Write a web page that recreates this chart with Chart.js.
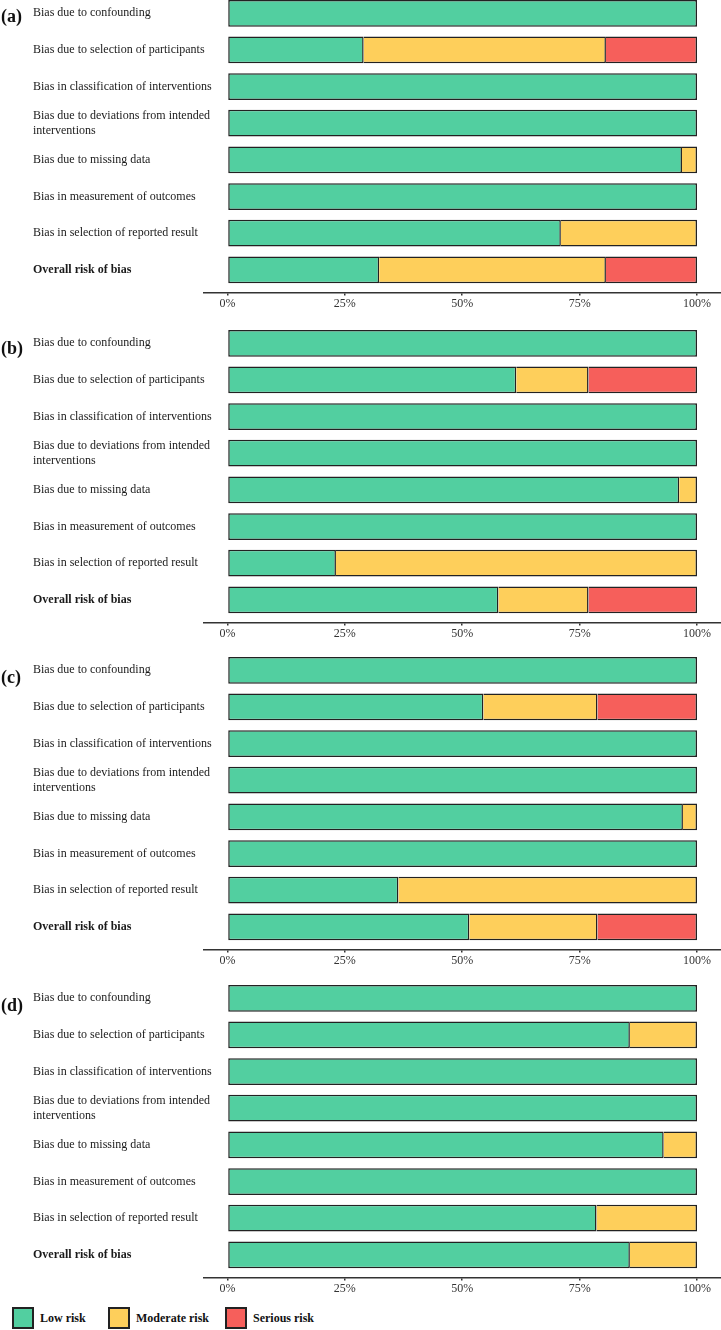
<!DOCTYPE html>
<html>
<head>
<meta charset="utf-8">
<script src="https://cdn.jsdelivr.net/npm/chart.js@4.4.1/dist/chart.umd.min.js"></script>
<style>
    body { margin: 0; background: #fff; }
    #page { position: relative; width: 721px; height: 1330px; overflow: hidden; font-family: 'Liberation Serif', 'Times New Roman', serif; }
    .panel { position: absolute; left: 0; }
    .letra { position: absolute; left: 1px; font-weight: bold; font-size: 18px; line-height: 18px; color: #111; }
    .leyenda { position: absolute; top: 1307px; height: 22px; display: flex; align-items: center; font-weight: bold; font-size: 12px; color: #111; }
    .leyenda-caja { width: 22px; height: 22px; box-sizing: border-box; border: 2px solid #222; margin-right: 6px; }
</style>
</head>
<body>
<div id="page">
    <canvas id="chart-a" class="panel" width="721" height="323" style="top:-11px"></canvas>
    <canvas id="chart-b" class="panel" width="721" height="323" style="top:319px"></canvas>
    <canvas id="chart-c" class="panel" width="721" height="323" style="top:646px"></canvas>
    <canvas id="chart-d" class="panel" width="721" height="323" style="top:974px"></canvas>
    <div class="letra" style="top:7px">(a)</div>
    <div class="letra" style="top:339px">(b)</div>
    <div class="letra" style="top:668px">(c)</div>
    <div class="letra" style="top:996px">(d)</div>
    <div id="leyenda"></div>
</div>
<script>
var dominios = [
    'Bias due to confounding',
    'Bias due to selection of participants',
    'Bias in classification of interventions',
    ['Bias due to deviations from intended', 'interventions'],
    'Bias due to missing data',
    'Bias in measurement of outcomes',
    'Bias in selection of reported result',
    'Overall risk of bias'
];
var x_ticks = [0, 25, 50, 75, 100];
var riesgos = ['Low risk', 'Moderate risk', 'Serious risk'];
var colores = ['#52CFA0', '#FECF5B', '#F65F5B'];

// porcentajes de estudios por dominio
var low_a = [100, 29.0, 100, 100, 96.8, 100, 71.0, 32.3];
var moderate_a = [0, 51.6, 0, 0, 3.2, 0, 29.0, 48.3];
var serious_a = [0, 19.4, 0, 0, 0, 0, 0, 19.4];

var low_b = [100, 61.5, 100, 100, 96.2, 100, 23.1, 57.7];
var moderate_b = [0, 15.4, 0, 0, 3.8, 0, 76.9, 19.2];
var serious_b = [0, 23.1, 0, 0, 0, 0, 0, 23.1];

var low_c = [100, 54.5, 100, 100, 97.0, 100, 36.4, 51.5];
var moderate_c = [0, 24.3, 0, 0, 3.0, 0, 63.6, 27.3];
var serious_c = [0, 21.2, 0, 0, 0, 0, 0, 21.2];

var low_d = [100, 85.7, 100, 100, 92.9, 100, 78.6, 85.7];
var moderate_d = [0, 14.3, 0, 0, 7.1, 0, 21.4, 14.3];
var serious_d = [0, 0, 0, 0, 0, 0, 0, 0];

var fuente = "'Liberation Serif', 'Times New Roman', serif";

to_points = function (valores) {
    return valores.map(function (v, i) { return {x: v, y: i}; });
}

function create_chart_riesgo(id, series) {
    var datasets = [];
    for (var d = 0; d < series.length; d++) {
        datasets.push({
            label: riesgos[d],
            data: to_points(series[d]),
            backgroundColor: colores[d],
            borderColor: '#222',
            borderWidth: 1.5,
            inflateAmount: 0,
            barPercentage: 0.73,
            categoryPercentage: 1,
            // solo el primer tramo con valor lleva borde izquierdo
            borderSkipped: function (ctx) {
                for (var k = 0; k < ctx.datasetIndex; k++) {
                    if (series[k][ctx.dataIndex] > 0) return 'start';
                }
                return false;
            }
        });
    }

    return new Chart(document.getElementById(id), {
        type: 'bar',
        data: {datasets: datasets},
        options: {
            indexAxis: 'y',
            responsive: false,
            animation: false,
            events: [],
            layout: {padding: {left: 204, right: 0, top: 0, bottom: 0}},
            plugins: {
                legend: {display: false},
                tooltip: {enabled: false}
            },
            scales: {
                x: {
                    type: 'linear',
                    stacked: true,
                    min: -5,
                    max: 105.11,
                    afterBuildTicks: function (axis) {
                        axis.ticks = x_ticks.map(function (v) { return {value: v}; });
                    },
                    grid: {display: true, drawOnChartArea: false, drawTicks: true, tickLength: 3, color: '#333', lineWidth: 1.5},
                    border: {display: true, color: '#333', width: 1.5},
                    ticks: {
                        padding: 1,
                        color: '#333',
                        maxRotation: 0,
                        autoSkip: false,
                        font: {family: fuente, size: 12},
                        callback: function (value) { return value + '%'; }
                    }
                },
                y: {
                    type: 'linear',
                    stacked: true,
                    reverse: true,
                    offset: false,
                    min: -0.662,
                    max: 7.622,
                    afterBuildTicks: function (axis) {
                        axis.ticks = dominios.map(function (t, i) { return {value: i}; });
                    },
                    afterFit: function (axis) {
                        axis.width = 0;
                    },
                    grid: {display: false},
                    border: {display: false},
                    // etiquetas en espejo para que no se recorten, alineadas a x=33
                    ticks: {
                        mirror: true,
                        crossAlign: 'near',
                        padding: -171,
                        autoSkip: false,
                        color: '#1a1a1a',
                        font: function (context) {
                            var bold = context.index === dominios.length - 1;
                            return {family: fuente, size: 12, lineHeight: 1.25, weight: bold ? 'bold' : 'normal'};
                        },
                        callback: function (value) { return dominios[value]; }
                    }
                }
            }
        }
    });
}

function load_leyenda() {
    var posiciones = [12, 108, 225];
    var cont = document.getElementById('leyenda');
    for (var i = 0; i < riesgos.length; i++) {
        var item = document.createElement('div');
        item.className = 'leyenda';
        item.style.left = posiciones[i] + 'px';
        var caja = document.createElement('span');
        caja.className = 'leyenda-caja';
        caja.style.background = colores[i];
        item.appendChild(caja);
        item.appendChild(document.createTextNode(riesgos[i]));
        cont.appendChild(item);
    }
}

create_chart_riesgo('chart-a', [low_a, moderate_a, serious_a]);
create_chart_riesgo('chart-b', [low_b, moderate_b, serious_b]);
create_chart_riesgo('chart-c', [low_c, moderate_c, serious_c]);
create_chart_riesgo('chart-d', [low_d, moderate_d, serious_d]);
load_leyenda();
</script>
</body>
</html>
